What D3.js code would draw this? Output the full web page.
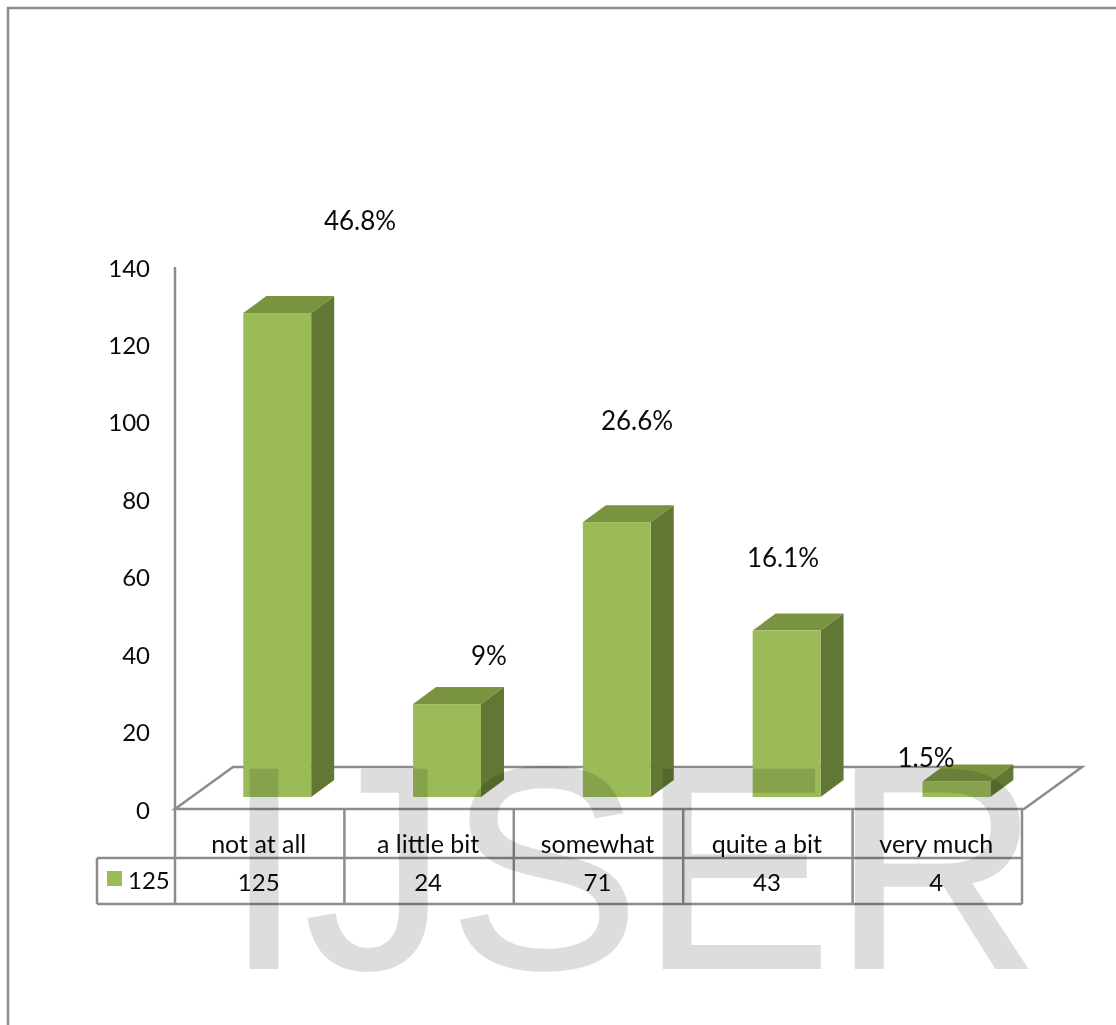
<!DOCTYPE html>
<html><head><meta charset="utf-8">
<script src="https://cdn.jsdelivr.net/npm/d3@7"></script>
<style>html,body{margin:0;padding:0;background:#fff}svg{display:block}text{font-family:"Lato",sans-serif;fill:#0a0a0a}</style>
</head><body><svg id="c" width="1116" height="1025"></svg>
<script>
const categories = ["not at all","a little bit","somewhat","quite a bit","very much"];
const values = [125,24,71,43,4];
const percentLabels = ["46.8%","9%","26.6%","16.1%","1.5%"];
const yTicks = [0,20,40,60,80,100,120,140];
const seriesName = "125";
const labelCentersX = [360,489,637,783,926];
const labelCentersY = [220,655,420,557,757];

const svg = d3.select("#c");
const lineC = "#8c8c8c", frontC = "#9bbb59", topC = "#7a9340", sideC = "#617733";
const x = d3.scaleBand().domain(categories).range([175,1024]).paddingInner(0.6).paddingOuter(0.3).align(0.67);
const y = d3.scaleLinear().domain([0,140]).range([797,255]);
const dx = 23, dy = 17, wallDy = 12;
const rowTop = 809, rowMid = 858, rowBot = 904, tableL = 97;
const colX = d3.scaleBand().domain(categories).range([175,1022]);
const sw = 2.5, fs = 24;

// frame
svg.append("path").attr("d","M8,1025V8H1116").attr("fill","none").attr("stroke",lineC).attr("stroke-width",2.5);

// floor
svg.append("path").attr("d",`M175,${rowTop}L233,767H1082L1024,${rowTop}Z`).attr("fill","none").attr("stroke",lineC).attr("stroke-width",sw);
// value axis
svg.append("line").attr("x1",175).attr("x2",175).attr("y1",y(140)+wallDy).attr("y2",rowTop).attr("stroke",lineC).attr("stroke-width",sw);
svg.append("g").selectAll("text").data(yTicks).join("text")
  .attr("x",150).attr("y",d=>y(d)+wallDy).attr("text-anchor","end").attr("dominant-baseline","central")
  .attr("font-size",fs).text(d=>d);

// bars
const bars = svg.append("g").selectAll("g").data(categories.map((c,i)=>({c,v:values[i]}))).join("g");
const bw = x.bandwidth();
const bx = d=>x(d.c);
bars.append("path").attr("fill",sideC).attr("d",d=>{const X=bx(d)+bw,T=y(d.v),B=y(0);return `M${X},${T}l${dx},${-dy}V${B-dy}L${X},${B}Z`;});
bars.append("path").attr("fill",topC).attr("d",d=>{const X=bx(d),T=y(d.v);return `M${X},${T}l${dx},${-dy}h${bw}l${-dx},${dy}Z`;});
bars.append("rect").attr("fill",frontC).attr("x",bx).attr("y",d=>y(d.v)).attr("width",bw).attr("height",d=>y(0)-y(d.v));

// percentage labels
svg.append("g").selectAll("text").data(percentLabels).join("text")
  .attr("x",(d,i)=>labelCentersX[i]).attr("y",(d,i)=>labelCentersY[i]).attr("text-anchor","middle").attr("dominant-baseline","central")
  .attr("font-size",26).text(d=>d);

// data table
const t = svg.append("g").attr("stroke",lineC).attr("stroke-width",sw).attr("fill","none");
t.append("path").attr("d",`M${tableL},${rowMid}H1022M${tableL},${rowBot}H1022M${tableL},${rowMid}V${rowBot}`);
colX.domain().forEach(c=>t.append("line").attr("x1",colX(c)).attr("x2",colX(c)).attr("y1",rowTop).attr("y2",rowBot));
t.append("line").attr("x1",1022).attr("x2",1022).attr("y1",rowTop).attr("y2",rowBot);
svg.append("g").selectAll("text").data(categories).join("text")
  .attr("x",d=>colX(d)+colX.bandwidth()/2-1).attr("y",843).attr("text-anchor","middle").attr("dominant-baseline","central")
  .attr("font-size",25).text(d=>d);
svg.append("g").selectAll("text").data(values).join("text")
  .attr("x",(d,i)=>colX(categories[i])+colX.bandwidth()/2-1).attr("y",881).attr("text-anchor","middle").attr("dominant-baseline","central")
  .attr("font-size",fs).text(d=>d);
svg.append("rect").attr("x",107).attr("y",871).attr("width",15).attr("height",15).attr("fill",frontC);
svg.append("text").attr("x",128).attr("y",879).attr("dominant-baseline","central").attr("font-size",fs).text(seriesName);

// watermark
svg.append("text").attr("x",224).attr("y",968).attr("font-size",288)
  .style("font-family","'Liberation Sans',sans-serif").style("fill","#dddddd").style("stroke","#dddddd").style("stroke-width",2)
  .style("mix-blend-mode","multiply").text("IJSER");
</script></body></html>
